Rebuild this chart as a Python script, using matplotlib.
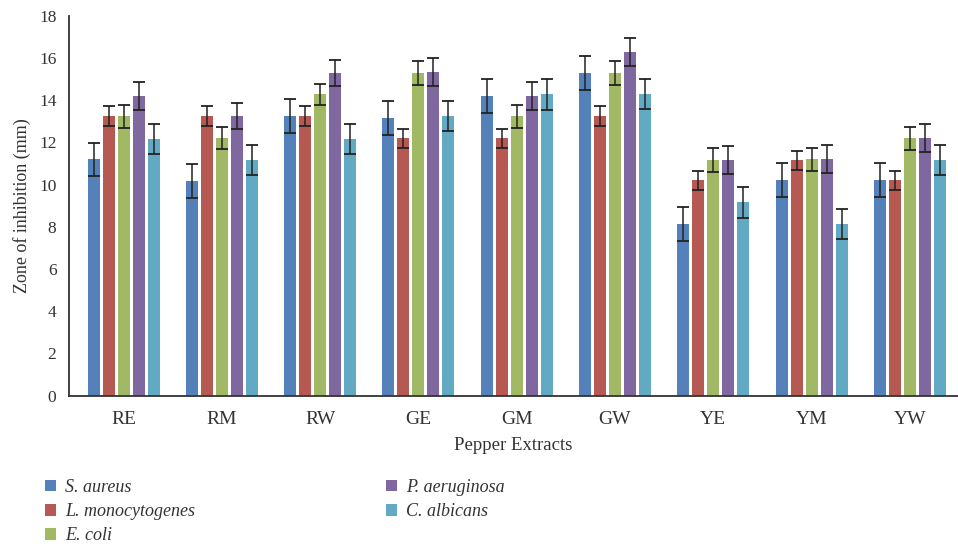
import matplotlib
matplotlib.use("Agg")
import matplotlib.pyplot as plt
import numpy as np
from matplotlib.patches import Patch

extracts = ["RE", "RM", "RW", "GE", "GM", "GW", "YE", "YM", "YW"]
species = ["S. aureus", "L. monocytogenes", "E. coli", "P. aeruginosa", "C. albicans"]

s_aureus = [11.2, 10.16, 13.25, 13.15, 14.2, 15.29, 8.12, 10.21, 10.21]
l_mono = [13.25, 13.25, 13.25, 12.2, 12.2, 13.25, 10.21, 11.16, 10.21]
e_coli = [13.25, 12.2, 14.29, 15.29, 13.25, 15.29, 11.16, 11.2, 12.2]
p_aer = [14.2, 13.25, 15.29, 15.34, 14.2, 16.29, 11.16, 11.2, 12.2]
c_alb = [12.16, 11.16, 12.16, 13.25, 14.29, 14.29, 9.16, 8.12, 11.16]

err_s_aureus = [0.8, 0.8, 0.8, 0.8, 0.8, 0.8, 0.8, 0.8, 0.8]
err_l_mono = [0.46, 0.46, 0.46, 0.46, 0.46, 0.46, 0.46, 0.46, 0.46]
err_e_coli = [0.55, 0.52, 0.49, 0.56, 0.55, 0.56, 0.56, 0.55, 0.55]
err_p_aer = [0.65, 0.63, 0.62, 0.67, 0.66, 0.65, 0.66, 0.66, 0.66]
err_c_alb = [0.72, 0.71, 0.72, 0.72, 0.73, 0.72, 0.72, 0.71, 0.72]

values = [s_aureus, l_mono, e_coli, p_aer, c_alb]
errors = [err_s_aureus, err_l_mono, err_e_coli, err_p_aer, err_c_alb]
colors = ["#5581BA", "#B75953", "#A1B964", "#7F67A0", "#62AAC4"]

serif = ["Liberation Serif", "DejaVu Serif"]
plt.rcParams["font.family"] = serif

fig = plt.figure(figsize=(9.58, 5.47), dpi=100)
W, H = 958, 547
ax = fig.add_axes([69 / W, 1 - 395.5 / H, (958 - 69) / W, (395.5 - 16) / H])

x = np.arange(len(extracts))
step = 0.1526
width = 0.122
for i, (vals, errs, c) in enumerate(zip(values, errors, colors)):
    ax.bar(x + (i - 2) * step, vals, width, color=c, label=species[i],
           yerr=errs, ecolor="#222222",
           error_kw=dict(elinewidth=1.1, capsize=4, capthick=1.3))

ax.set_xlim(-0.555, 8.49)
ax.set_ylim(0, 18)
ax.set_yticks(np.arange(0, 19, 2))
ax.set_xticks(x)
ax.set_xticklabels(extracts, fontsize=14, color="#333333")
ax.tick_params(axis="y", length=0, pad=9, labelsize=12.5, labelcolor="#333333")
ax.tick_params(axis="x", length=0, pad=11)
for s in ["top", "right"]:
    ax.spines[s].set_visible(False)
for s in ["left", "bottom"]:
    ax.spines[s].set_color("#333333")
    ax.spines[s].set_linewidth(1.3)

ax.set_ylabel("Zone of inhibition (mm)", fontsize=13, color="#333333", labelpad=6)
fig.text(513 / W, 1 - 445 / H, "Pepper Extracts", fontsize=13.5, color="#333333",
         ha="center", va="center")

handles = [Patch(facecolor=c, edgecolor="none") for c in colors]
leg = fig.legend(handles, species, loc="upper left", bbox_to_anchor=(36 / W, 1 - 470 / H),
                 ncol=2, frameon=False, prop=dict(family=serif, style="italic", size=13),
                 handlelength=0.6, handleheight=0.6, handletextpad=0.5,
                 columnspacing=10.6, labelspacing=0.4, borderpad=0)
for t in leg.get_texts():
    t.set_color("#333333")

fig.savefig("out.png", dpi=100)
